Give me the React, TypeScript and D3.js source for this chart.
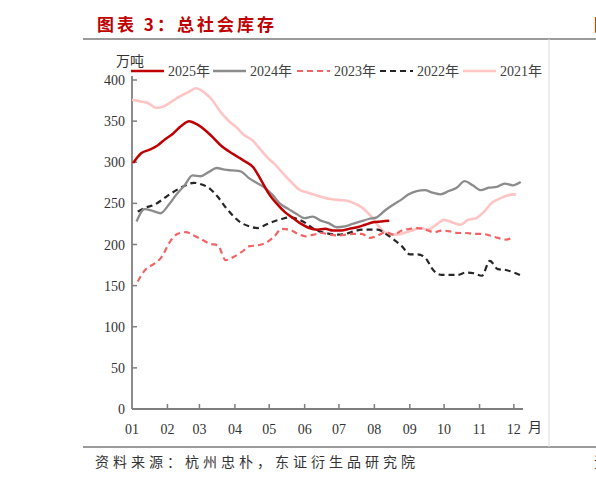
import * as d3 from 'd3';

// weekly readings, 万吨
const s2025 = [299, 311, 315, 320, 328, 335, 344, 350, 346, 339, 330, 320, 313, 307, 301, 294, 278, 261, 249, 239, 232, 225, 220, 218, 219, 217, 217, 219, 221, 224, 227, 228, 229];
const s2024 = [228, 243, 241, 238, 248, 261, 272, 284, 283, 288, 293, 291, 290, 289, 281, 275, 269, 260, 249, 243, 237, 232, 234, 229, 226, 221, 222, 225, 228, 231, 233, 241, 248, 254, 261, 265, 266, 263, 261, 265, 269, 277, 272, 266, 269, 270, 274, 272, 276];
const s2023 = [155, 170, 176, 185, 203, 213, 215, 211, 206, 201, 199, 181, 185, 191, 198, 199, 202, 209, 219, 218, 213, 210, 212, 214, 212, 211, 212, 213, 213, 208, 211, 215, 212, 217, 219, 220, 218, 215, 217, 216, 214, 214, 213, 213, 211, 208, 206, 209];
const s2022 = [240, 245, 248, 254, 261, 267, 272, 275, 273, 268, 258, 245, 234, 226, 222, 220, 224, 228, 231, 233, 231, 226, 219, 215, 213, 212, 213, 216, 218, 218, 218, 213, 206, 198, 188, 188, 183, 168, 163, 163, 163, 166, 165, 162, 180, 170, 169, 166, 162];
const s2021 = [376, 374, 372, 366, 368, 374, 380, 385, 390, 385, 376, 362, 351, 343, 333, 327, 316, 305, 296, 285, 275, 266, 263, 260, 257, 255, 254, 253, 249, 243, 233, 220, 213, 212, 214, 217, 220, 218, 224, 230, 227, 224, 230, 232, 240, 251, 256, 260, 261];

const years = ['2025年', '2024年', '2023年', '2022年', '2021年'];
const startDay = [1, 4, 5, 5, 0];
const colors = ['#c00000', '#8c8c8c', '#f26464', '#262626', '#ffc4c4'];
const dashes = ['', '', '6,4', '6,4', ''];
const widths = [2.5, 2.3, 2.2, 2.2, 2.6];
const yTicks = [0, 50, 100, 150, 200, 250, 300, 350, 400];
const monthLabels = ['01', '02', '03', '04', '05', '06', '07', '08', '09', '10', '11', '12'];

const serif = "'Liberation Serif', 'Times New Roman', 'Noto Sans CJK SC', serif";
const cjk = "'Noto Sans CJK SC', sans-serif";

export default function App() {
  const x = d3.scaleUtc().domain([new Date(Date.UTC(2023, 0, 1)), new Date(Date.UTC(2023, 11, 9))]).range([132, 523]);
  const y = d3.scaleLinear().domain([0, 400]).range([409, 80]);

  const seriesList = [s2025, s2024, s2023, s2022, s2021];
  const day = (n: number) => new Date(Date.UTC(2023, 0, 1 + n));

  const line = d3
    .line<[Date, number]>()
    .x((d) => x(d[0]))
    .y((d) => y(d[1]))
    .curve(d3.curveMonotoneX);

  const months = monthLabels.map((_, i) => new Date(Date.UTC(2023, i, 1)));
  const legendX = [131, 213, 297, 380, 463];

  // older years drawn first
  const order = [4, 3, 2, 1, 0];

  return (
    <svg width={596} height={484} style={{ position: 'absolute', left: 0, top: 0 }}>
      <rect width={596} height={484} fill="#fff" />
      <text x={97} y={31} fill="#c00000" fontFamily={cjk} fontWeight="bold" fontSize={17} letterSpacing={3}>
        图表 3：总社会库存
      </text>
      <text x={594} y={31} fill="#c00000" fontFamily={cjk} fontWeight="bold" fontSize={17}>
        图
      </text>
      <line x1={83} x2={596} y1={39} y2={39} stroke="#7a7a7a" strokeWidth={1.5} />
      <line x1={83} x2={596} y1={447} y2={447} stroke="#7a7a7a" strokeWidth={1.5} />
      <line x1={549} x2={549} y1={39} y2={447} stroke="#dcdcdc" strokeWidth={1} />
      <text x={95} y={467} fill="#333" fontFamily={cjk} fontSize={14} letterSpacing={4}>
        资料来源：杭州忠朴，东证衍生品研究院
      </text>
      <text x={594} y={467} fill="#333" fontFamily={cjk} fontSize={14}>
        资
      </text>

      <text x={116} y={66} fill="#333" fontFamily={cjk} fontSize={14}>
        万吨
      </text>

      {years.map((name, i) => (
        <g key={name}>
          <line
            x1={legendX[i]}
            x2={legendX[i] + 33}
            y1={71}
            y2={71}
            stroke={colors[i]}
            strokeWidth={widths[i]}
            strokeDasharray={dashes[i] || undefined}
          />
          <text x={legendX[i] + 37} y={76} fill="#404040" fontFamily={serif} fontSize={14}>
            {name}
          </text>
        </g>
      ))}

      {/* axes */}
      <line x1={132} x2={132} y1={76} y2={409} stroke="#7f7f7f" strokeWidth={1.8} />
      <line x1={132} x2={523} y1={409} y2={409} stroke="#7f7f7f" strokeWidth={1.8} />
      {yTicks.map((t) => (
        <g key={t}>
          <line x1={132} x2={137} y1={y(t)} y2={y(t)} stroke="#7f7f7f" strokeWidth={1.5} />
          <text x={125} y={y(t) + 5} textAnchor="end" fill="#333" fontFamily={serif} fontSize={14}>
            {t}
          </text>
        </g>
      ))}
      {months.map((m, i) => (
        <g key={i}>
          {i > 0 && <line x1={x(m)} x2={x(m)} y1={409} y2={404} stroke="#7f7f7f" strokeWidth={1.5} />}
          <text x={x(m)} y={434} textAnchor="middle" fill="#333" fontFamily={serif} fontSize={14}>
            {monthLabels[i]}
          </text>
        </g>
      ))}
      <text x={528} y={432} fill="#333" fontFamily={cjk} fontSize={14}>
        月
      </text>

      {order.map((k) => {
        const pts: [Date, number][] = seriesList[k].map((v, i) => [day(startDay[k] + 7 * i), v]);
        return (
          <path
            key={k}
            d={line(pts) ?? ''}
            fill="none"
            stroke={colors[k]}
            strokeWidth={widths[k]}
            strokeDasharray={dashes[k] || undefined}
            strokeLinejoin="round"
          />
        );
      })}
    </svg>
  );
}
